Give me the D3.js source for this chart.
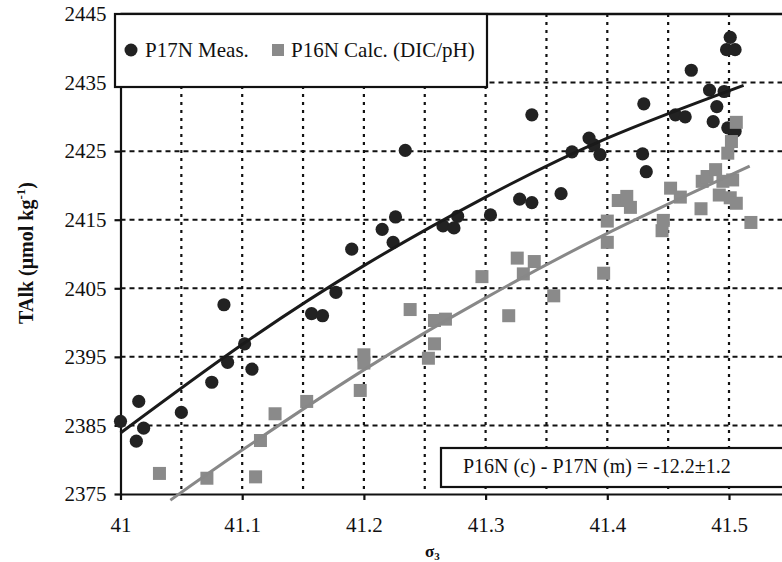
<!DOCTYPE html>
<html>
<head>
<meta charset="utf-8">
<script src="https://cdn.jsdelivr.net/npm/d3@7"></script>
<style>
  html, body { margin: 0; padding: 0; background: #fff; }
  svg { display: block; }
  text { font-family: "Liberation Serif", "Times New Roman", serif; fill: #111; }
</style>
</head>
<body>
<svg id="chart" width="782" height="562"></svg>
<script>
// ---- data ----
const p17nMeas = [
  [41.000, 2385.6], [41.013, 2382.7], [41.015, 2388.5], [41.019, 2384.6],
  [41.050, 2386.9], [41.075, 2391.3], [41.085, 2402.6], [41.088, 2394.2],
  [41.102, 2396.9], [41.108, 2393.2], [41.157, 2401.3], [41.166, 2401.0],
  [41.177, 2404.4], [41.190, 2410.7], [41.215, 2413.6], [41.224, 2411.7],
  [41.226, 2415.4], [41.234, 2425.1], [41.265, 2414.1], [41.274, 2413.8],
  [41.277, 2415.5], [41.304, 2415.7], [41.328, 2418.0], [41.338, 2417.5],
  [41.338, 2430.3], [41.362, 2418.8], [41.371, 2424.9], [41.385, 2426.9],
  [41.389, 2425.9], [41.394, 2424.5], [41.429, 2424.6], [41.432, 2422.0],
  [41.430, 2431.9], [41.456, 2430.3], [41.464, 2430.0], [41.469, 2436.8],
  [41.484, 2433.9], [41.487, 2429.3], [41.490, 2431.5], [41.496, 2433.7],
  [41.499, 2428.4], [41.505, 2427.9], [41.498, 2439.8], [41.505, 2439.8],
  [41.501, 2441.6]
];
const p16nCalc = [
  [41.032, 2378.0], [41.071, 2377.3], [41.111, 2377.5], [41.115, 2382.8],
  [41.127, 2386.7], [41.153, 2388.5], [41.197, 2390.1], [41.200, 2394.1],
  [41.200, 2395.3], [41.238, 2401.9], [41.253, 2394.8], [41.258, 2396.9],
  [41.258, 2400.3], [41.267, 2400.5], [41.297, 2406.7], [41.319, 2401.0],
  [41.326, 2409.4], [41.331, 2407.1], [41.340, 2408.9], [41.356, 2403.9],
  [41.397, 2407.2], [41.400, 2411.7], [41.400, 2414.8], [41.409, 2417.8],
  [41.416, 2418.4], [41.419, 2416.8], [41.445, 2413.4], [41.446, 2414.9],
  [41.452, 2419.6], [41.460, 2418.3], [41.477, 2416.6], [41.478, 2420.6],
  [41.482, 2421.3], [41.489, 2422.3], [41.492, 2418.6], [41.495, 2420.6],
  [41.501, 2418.2], [41.503, 2420.8], [41.506, 2417.4], [41.499, 2424.7],
  [41.502, 2426.4], [41.506, 2429.2], [41.518, 2414.6]
];
// fitted curves, points
const p17nFit = [[41.0, 2383.9], [41.1, 2396.8], [41.2, 2408.3], [41.3, 2418.3], [41.4, 2426.9], [41.512, 2434.6]];
const p16nFit = [[41.041, 2374.1], [41.1, 2381.4], [41.2, 2393.1], [41.3, 2403.6], [41.4, 2413.0], [41.517, 2422.8]];

const xTicks = [41, 41.1, 41.2, 41.3, 41.4, 41.5];
const xTickLabels = ["41", "41.1", "41.2", "41.3", "41.4", "41.5"];
const yTicks = [2375, 2385, 2395, 2405, 2415, 2425, 2435, 2445];
const xGrid = [41.05, 41.1, 41.15, 41.2, 41.25, 41.3, 41.35, 41.4, 41.45, 41.5, 41.55];
const yGrid = [2385, 2395, 2405, 2415, 2425, 2435];
const legendLabels = ["P17N Meas.", "P16N Calc. (DIC/pH)"];
const annotation = "P16N (c) - P17N (m) = -12.2±1.2";

// ---- layout ----
const svg = d3.select("#chart");
const W = 782, H = 562;
const mLeft = 120.5, mTop = 14, mBottom = 494;
const x = d3.scaleLinear().domain([41, 41.55]).range([mLeft, mLeft + 0.55 * 1217]);
const y = d3.scaleLinear().domain([2375, 2445]).range([mBottom, mTop]);
const dark = "#222", grey = "#8a8a8a";
const serif = '"Liberation Serif", "Times New Roman", serif';

// grid
const g = svg.append("g");
g.selectAll("line.vg").data(xGrid).join("line")
  .attr("x1", d => x(d)).attr("x2", d => x(d))
  .attr("y1", mTop).attr("y2", mBottom)
  .attr("stroke", "#111").attr("stroke-width", 2.2)
  .attr("stroke-dasharray", "3,5");
g.selectAll("line.hg").data(yGrid).join("line")
  .attr("x1", mLeft).attr("x2", W)
  .attr("y1", d => y(d)).attr("y2", d => y(d))
  .attr("stroke", "#111").attr("stroke-width", 2)
  .attr("stroke-dasharray", "5,4");

// top frame
svg.append("line").attr("x1", mLeft).attr("x2", W).attr("y1", mTop).attr("y2", mTop)
  .attr("stroke", "#111").attr("stroke-width", 2.5);

// axes
const yAxis = svg.append("g").attr("transform", `translate(${mLeft},0)`)
  .call(d3.axisLeft(y).tickValues(yTicks).tickSize(6).tickSizeOuter(0).tickPadding(8).tickFormat(d3.format("d")));
const xAxis = svg.append("g").attr("transform", `translate(0,${mBottom})`)
  .call(d3.axisBottom(x).tickValues(xTicks).tickSize(6).tickSizeOuter(0).tickPadding(17)
    .tickFormat((d, i) => xTickLabels[i]));
[yAxis, xAxis].forEach(a => {
  a.attr("font-family", serif).attr("font-size", 21);
  a.select(".domain").attr("stroke", "#111").attr("stroke-width", 2.2);
  a.selectAll(".tick line").attr("stroke", "#111").attr("stroke-width", 2.2);
  a.selectAll(".tick text").attr("font-family", serif).attr("font-size", 21)
    .style("font-family", serif).attr("fill", "#111");
});

// points
svg.append("g").selectAll("circle").data(p17nMeas).join("circle")
  .attr("cx", d => x(d[0])).attr("cy", d => y(d[1])).attr("r", 6.6)
  .attr("fill", dark);
const sq = 13;
svg.append("g").selectAll("rect").data(p16nCalc).join("rect")
  .attr("x", d => x(d[0]) - sq / 2).attr("y", d => y(d[1]) - sq / 2)
  .attr("width", sq).attr("height", sq).attr("fill", grey);

// fit curves
const line = d3.line().x(d => x(d[0])).y(d => y(d[1])).curve(d3.curveNatural);
svg.append("path").datum(p17nFit).attr("d", line)
  .attr("fill", "none").attr("stroke", "#1a1a1a").attr("stroke-width", 3);
svg.append("path").datum(p16nFit).attr("d", line)
  .attr("fill", "none").attr("stroke", "#888").attr("stroke-width", 3);

// legend
const lg = svg.append("g");
lg.append("rect").attr("x", 115).attr("y", 14).attr("width", 372).attr("height", 73)
  .attr("fill", "#fff").attr("stroke", "#111").attr("stroke-width", 2.2);
lg.append("circle").attr("cx", 131).attr("cy", 50).attr("r", 6.5).attr("fill", dark);
lg.append("text").attr("x", 145).attr("y", 57).style("font-size", "21px").text(legendLabels[0]);
lg.append("rect").attr("x", 272).attr("y", 44).attr("width", 12).attr("height", 12).attr("fill", grey);
lg.append("text").attr("x", 291).attr("y", 57).style("font-size", "21px").text(legendLabels[1]);

// annotation box
const ab = svg.append("g");
ab.append("rect").attr("x", 441).attr("y", 448).attr("width", 360).attr("height", 39)
  .attr("fill", "#fff").attr("stroke", "#111").attr("stroke-width", 2.2);
ab.append("text").attr("x", 463).attr("y", 473).style("font-size", "20px").text(annotation);

// axis titles
const yt = svg.append("text").attr("transform", "translate(33,253) rotate(-90)")
  .attr("text-anchor", "middle").style("font-size", "20px").style("font-weight", "bold");
yt.append("tspan").text("TAlk (μmol kg");
yt.append("tspan").attr("dy", "-8").style("font-size", "13px").text("-1");
yt.append("tspan").attr("dy", "8").text(")");

const xt = svg.append("text").attr("x", 425).attr("y", 557).style("font-size", "17px").style("font-weight", "bold");
xt.append("tspan").text("σ");
xt.append("tspan").attr("dy", "3").style("font-size", "11px").text("3");
</script>
</body>
</html>
